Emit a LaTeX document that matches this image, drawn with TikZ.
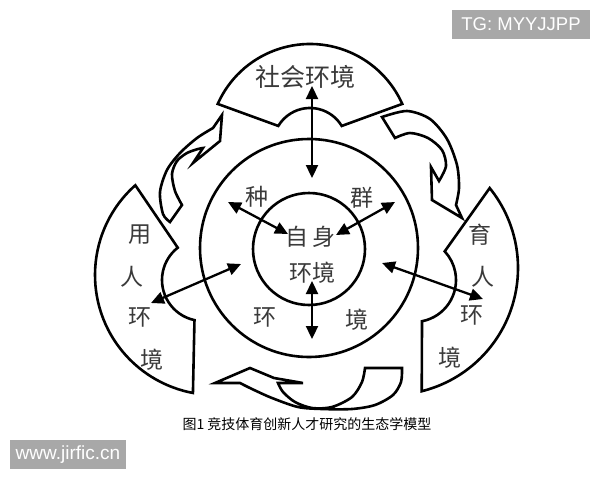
\documentclass[tikz,border=0pt]{standalone}
\usepackage{fontspec}
\setmainfont{Liberation Sans}
\newfontfamily\cjk{Noto Sans CJK SC}
\usetikzlibrary{arrows.meta,calc}
\definecolor{wmgray}{HTML}{A8A8A8}
\definecolor{txt}{HTML}{3A3A3A}
\begin{document}
\begin{tikzpicture}[x=1pt,y=-1pt,
  outline/.style={draw=black,line width=2.6pt,line join=miter,fill=white},
  ringnode/.style={circle,draw=black,line width=2.6pt,inner sep=0pt,outer sep=0pt},
  dbl/.style={line width=2.3pt,{Triangle[length=13pt,width=12pt]}-{Triangle[length=13pt,width=12pt]}},
  big/.style={font=\cjk\fontsize{25}{25}\selectfont,text=txt,inner sep=0pt},
  lbl/.style={font=\cjk\fontsize{23}{23}\selectfont,text=txt,inner sep=0pt},
  captext/.style={font=\cjk\fontsize{14}{14}\selectfont,text=black,inner sep=0pt},
  wm/.style={fill=wmgray,text=white,inner sep=0pt}]
\useasboundingbox (0,0) rectangle (600,480);
\fill[white] (0,0) rectangle (600,480);

% three environment sectors
\draw[outline] ($(310,145)+(-156:101)$) arc[start angle=-156,end angle=-24,radius=101]
  -- ($(310,145)+(-31:37)$) arc[start angle=-31,end angle=-149,radius=37] -- cycle;
\draw[outline] ($(215,275)+(228.4:120)$) arc[start angle=228.4,end angle=100.6,radius=120]
  -- ($(203,280)+(102:41)$) arc[start angle=102,end angle=232,radius=41] -- cycle;
\draw[outline] ($(391,268)+(-39:127)$) arc[start angle=-39,end angle=76,radius=127]
  -- ($(414,280)+(79:42)$) arc[start angle=79,end angle=-43,radius=42] -- cycle;

% curved block arrows
\draw[outline] (170,222) -- plot[smooth] coordinates {(170,222) (163,214) (160,192) (167,170) (180,153) (197,138) (213,128)}
  -- (222,115) -- (220,141) -- (193,163) -- (203,148)
  -- plot[smooth] coordinates {(203,148) (198,149) (187,153) (177,161) (172,174) (175,191) (182,205)} -- cycle;
\draw[outline] (382,117) -- plot[smooth] coordinates {(382,117) (407,111) (430,119) (447,139) (457,165) (459,188) (456,205)}
  -- (462,218) -- (432,200) -- (431,167) -- (439,181)
  -- plot[smooth] coordinates {(439,181) (446,166) (442,150) (428,138) (410,133) (395,138)} -- cycle;
\draw[outline] (215,383) -- (250,368) -- (274,378) -- (303,383) -- (278,383)
  -- plot[smooth] coordinates {(278,383) (283,392) (295,402) (312,408) (332,407) (352,397) (362,382) (365,368)}
  -- (402,368)
  -- plot[smooth] coordinates {(402,368) (401,382) (393,395) (375,405) (352,409) (322,409) (298,407) (272,398) (252,389) (240,383)} -- cycle;

% circles
\node[ringnode,minimum size=218pt] (mid) at (309,248) {};
\node[ringnode,minimum size=112pt] (core) at (309,249) {};

% labels
\node[big] (soc) at (305,77) {社会环境};
\node[lbl] (zhong) at (257,197) {种};
\node[lbl] (qun) at (362,198) {群};
\node[lbl] (huan1) at (265,317) {环};
\node[lbl] (jing1) at (357,320) {境};
\node[lbl] (zi) at (297,237) {自};
\node[lbl] (shen) at (324,237) {身};
\node[lbl] (hj) at (312,273) {环境};
\node[lbl] (yong) at (140,235) {用};
\node[lbl] (ren1) at (132,277) {人};
\node[lbl] (huan2) at (140,317) {环};
\node[lbl] (jing2) at (152,360) {境};
\node[lbl] (yu) at (480,235) {育};
\node[lbl] (ren2) at (483,277) {人};
\node[lbl] (huan3) at (472,315) {环};
\node[lbl] (jing3) at (450,358) {境};
\node[captext] (caption) at (307,424) {图1\ 竞技体育创新人才研究的生态学模型};

% double arrows
\coordinate (t1) at (312,86);  \coordinate (t2) at (312,178);
\coordinate (b1) at (312,281); \coordinate (b2) at (312,339);
\coordinate (l1) at (228,202); \coordinate (l2) at (288,234);
\coordinate (r1) at (395,202); \coordinate (r2) at (336,235);
\coordinate (w1) at (241,264); \coordinate (w2) at (151,303);
\coordinate (e1) at (382,263); \coordinate (e2) at (483,299);
\draw[dbl] (t1) -- (t2);
\draw[dbl] (b1) -- (b2);
\draw[dbl] (l1) -- (l2);
\draw[dbl] (r1) -- (r2);
\draw[dbl] (w1) -- (w2);
\draw[dbl] (e1) -- (e2);

% watermarks
\node[wm,minimum width=138pt,minimum height=29pt,font=\fontsize{18.5}{18.5}\selectfont] (tg) at (521,24.5) {TG: MYYJJPP};
\node[wm,minimum width=116pt,minimum height=29pt,font=\fontsize{19}{19}\selectfont] (www) at (68,454.5) {www.jirfic.cn};
\end{tikzpicture}
\end{document}
